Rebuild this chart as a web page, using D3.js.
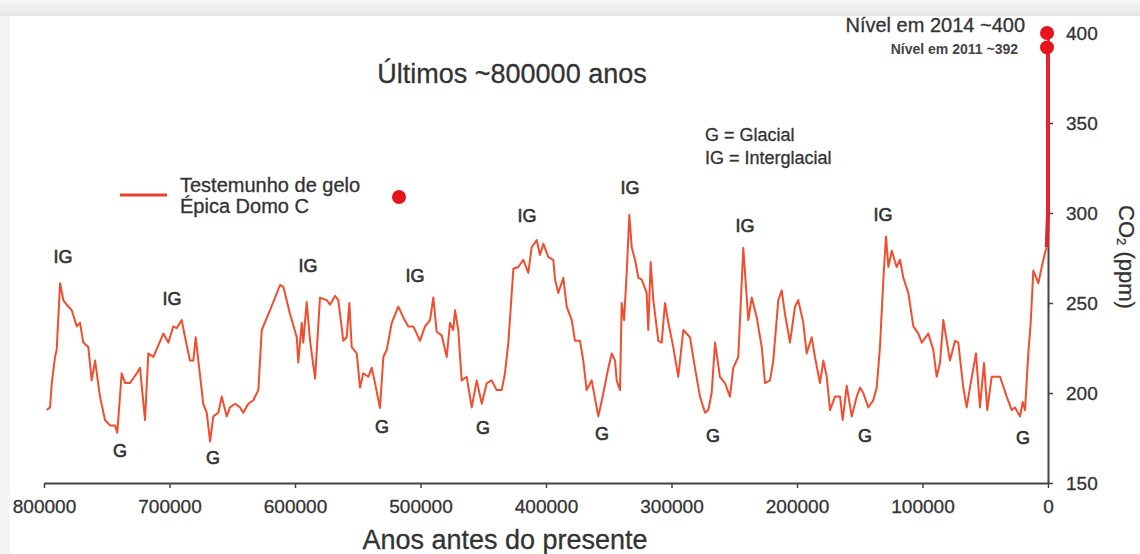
<!DOCTYPE html>
<html>
<head>
<meta charset="utf-8">
<script src="https://cdn.jsdelivr.net/npm/d3@7"></script>
<style>
  html, body { margin: 0; padding: 0; background: #f3f3f3; }
  svg { display: block; font-family: "Liberation Sans", Arial, sans-serif; }
  svg text { stroke: #333; stroke-width: 0.3px; }
</style>
</head>
<body>
<div id="chart"></div>
<script>
// Testemunho de gelo Épica Domo C: [milhares de anos antes do presente, CO2 ppm]
const iceCore = [
  [797.8,190.6],[795.2,192],[793.8,205.5],[791.2,220],[789.9,224],[787.2,261],[784.6,251.6],[781.9,249],
  [777.9,246],[773.9,237],[771.3,239],[768.7,228],[764.7,225.5],[762.0,207],[759.3,218],[755.4,198],
  [751.4,185],[747.4,182],[743.4,182],[741.6,178],[738.1,211],[735.4,205.5],[731.5,205.5],[726.1,211],
  [723.5,214],[719.5,185],[716.9,222],[712.9,220],[704.9,233],[700.9,228],[697.0,237],[694.3,236],
  [690.3,240.5],[687.6,231],[683.7,218],[681.0,218],[679.1,231],[677.0,218],[673.1,194],[670.3,189],
  [667.7,173],[665.1,187],[661.1,189],[658.4,198],[654.4,187],[651.8,192],[647.8,194],[643.8,192],
  [641.2,189],[637.2,194],[633.2,196],[629.2,201.6],[626.5,235],[619.9,246],[615.9,253],[611.9,260],
  [609.3,259],[604.0,244],[598.6,231],[597.4,217],[594.6,239],[593.4,228],[590.7,250.5],[588.0,229],
  [584.0,208],[580.1,253],[574.7,251.6],[572.1,249],[568.1,254],[565.5,251.6],[561.5,229],[558.8,231],
  [556.7,250],[554.8,225.5],[550.8,222],[548.2,203],[545.6,211],[541.6,209],[538.9,214],[536.2,205.5],
  [532.3,191.7],[529.6,220],[526.9,224],[522.9,239],[517.7,248],[513.7,242],[509.7,237],
  [505.7,237],[500.4,229],[496.4,237],[492.4,240.5],[489.8,253],[487.1,234],[483.1,232],[479.1,220],
  [476.5,239],[473.9,235],[472.5,246],[469.9,235],[467.2,207],[463.2,209],[459.2,192],[455.2,207],
  [451.2,194],[447.2,205.5],[443.3,207],[439.3,201.6],[435.3,201.6],[432.7,211],[430.0,228],[426.0,269],
  [422.1,270],[418.1,274],[414.1,266.7],[411.4,281],[407.4,285],[404.8,276.7],[402.1,283],[398.2,275.6],
  [394.2,274],[392.8,263],[390.2,255.6],[386.2,264],[383.5,248],[379.5,240.5],[376.9,229],[372.9,229],
  [370.3,218],[367.6,201.6],[363.6,207],[358.3,187],[354.3,200],[350.3,214],[347.6,222],[345.0,218],
  [343.7,207],[341.0,201.6],[339.7,250],[337.8,240.5],[335.7,266.7],[333.6,299],[331.7,281],[329.1,274],
  [326.4,264],[323.7,263],[319.8,255.6],[318.5,235],[316.6,272.8],[314.5,251.6],[310.5,229],[307.8,228],
  [305.2,250],[302.5,239],[298.6,225.5],[294.6,209],[290.6,235],[285.3,231],[281.3,214],[277.3,198],
  [273.3,189],[270.7,190.5],[268.0,200],[265.3,228],[261.4,209],[257.4,205.5],[253.4,198],[250.8,214],
  [246.8,220],[242.8,280.6],[238.8,240.5],[236.1,253],[232.1,242],[228.1,225.5],[225.5,205.5],[221.5,207],
  [218.9,218],[214.9,251.6],[212.2,257],[209.6,244],[205.6,228],[201.6,248],[199.0,251.6],[195.0,239],
  [192.3,222],[188.3,231],[185.7,220],[181.7,205.5],[179.0,218],[176.3,209],[173.7,190.5],[169.7,198],
  [165.7,198],[163.6,185],[160.4,204],[156.4,187],[152.4,198],[149.8,203],[147.2,200],[143.2,192],
  [139.2,196],[136.5,203],[133.9,225.5],[131.2,263],[129.1,287],[127.2,270],[124.5,279],[120.6,270],
  [117.9,274],[115.3,264],[111.3,255.6],[107.3,237],[103.3,233],[100.6,228],[95.4,233],[91.4,224],
  [88.7,209],[86.1,216.7],[83.4,240.5],[80.7,229],[78.1,218],[74.1,229],[71.5,228],[67.5,203],
  [64.8,192],[62.2,203],[57.4,222],[54.2,192],[51.0,216.7],[48.4,190.5],[44.9,209],[38.2,209],
  [32.9,198],[28.9,190.5],[26.3,192],[22.3,187],[20.2,195],[18.3,190.5],[15.7,222],[13.8,239],
  [11.7,268],[7.7,261],[5.0,270],[2.4,277.8],[1.0,281]
]

// subida moderna até ao nível de 2011
const modern = [[1.0, 281], [0, 300], [0, 392]]

// medições recentes
const recentLevels = [
  { kyr: 0, ppm: 400 },
  { kyr: 0, ppm: 392 }
]

// anotações G / IG: [kyr, ppm]
const igLabels = [[784.8,275.6],[698.0,252.2],[589.6,270.6],[504.4,265],[415.1,298.3],[333.1,313.9],[241.4,292.8],[131.5,298.9]]
const gLabels = [[739.4,167.8],[665.3,163.9],[530.7,181.1],[450.2,180.6],[355.4,177.2],[266.9,176.1],[145.8,176.1],[19.9,175]]

const xTicks = [800000, 700000, 600000, 500000, 400000, 300000, 200000, 100000, 0]
const yTicks = [150, 200, 250, 300, 350, 400]

const width = 1140
const height = 554
const lineColor = '#f04e2e'
const dotColor = '#e8141c'
const textColor = '#333333'

const svg = d3.select('#chart')
  .append('svg')
  .attr('width', width)
  .attr('height', height)

// moldura cinzenta + painel branco
const defs = svg.append('defs')
const topGrad = defs.append('linearGradient')
  .attr('id', 'top-band')
  .attr('x1', 0).attr('y1', 0).attr('x2', 0).attr('y2', 1)
topGrad.append('stop').attr('offset', '0%').attr('stop-color', '#f6f6f6')
topGrad.append('stop').attr('offset', '100%').attr('stop-color', '#e6e6e6')

svg.append('rect').attr('width', width).attr('height', height).attr('fill', '#f4f4f4')
svg.append('rect').attr('x', 0).attr('y', 0).attr('width', width).attr('height', 16).attr('fill', 'url(#top-band)')
svg.append('rect').attr('x', 10).attr('y', 16).attr('width', width - 10).attr('height', height - 16).attr('fill', '#ffffff')

const x = d3.scaleLinear()
  .domain([800000, 0])
  .range([44, 1048])

const y = d3.scaleLinear()
  .domain([150, 400])
  .range([483, 33])

// eixo x
const xAxis = svg.append('g')
  .attr('transform', `translate(0,${y(150)})`)
  .call(d3.axisBottom(x).tickValues(xTicks).tickFormat(d3.format('d')).tickSize(5).tickSizeOuter(0).tickPadding(12))
xAxis.select('.domain').attr('stroke', '#444').attr('stroke-width', 2)
xAxis.selectAll('.tick line').attr('stroke', '#444').attr('stroke-width', 1.5)
xAxis.selectAll('.tick text').attr('font-size', 19).attr('fill', textColor).attr('font-family', '"Liberation Sans", Arial, sans-serif')

// eixo y
const yAxis = svg.append('g')
  .attr('transform', `translate(${x(0)},0)`)
  .call(d3.axisRight(y).tickValues(yTicks).tickSize(5).tickSizeOuter(0).tickPadding(13))
yAxis.select('.domain').attr('stroke', '#444').attr('stroke-width', 2)
yAxis.selectAll('.tick line').attr('stroke', '#444').attr('stroke-width', 1.5)
yAxis.selectAll('.tick text').attr('font-size', 19).attr('fill', textColor).attr('font-family', '"Liberation Sans", Arial, sans-serif')

// curva do testemunho de gelo
const line = d3.line()
  .x(d => x(d[0] * 1000))
  .y(d => y(d[1]))

svg.append('path')
  .datum(iceCore)
  .attr('d', line)
  .attr('fill', 'none')
  .attr('stroke', lineColor)
  .attr('stroke-width', 2)
  .attr('stroke-linejoin', 'round')

svg.append('path')
  .datum(modern)
  .attr('d', line)
  .attr('fill', 'none')
  .attr('stroke', '#e3262b')
  .attr('stroke-width', 4)

// pontos 2011 / 2014
svg.append('g')
  .selectAll('circle')
  .data(recentLevels)
  .join('circle')
  .attr('cx', d => x(d.kyr * 1000) - 1)
  .attr('cy', d => y(d.ppm))
  .attr('r', 7)
  .attr('fill', dotColor)

// G / IG
svg.append('g')
  .selectAll('text')
  .data(igLabels)
  .join('text')
  .attr('x', d => x(d[0] * 1000))
  .attr('y', d => y(d[1]) + 6)
  .attr('text-anchor', 'middle')
  .attr('font-size', 18)
  .attr('fill', textColor)
  .style('stroke-width', '0.6px')
  .text('IG')

svg.append('g')
  .selectAll('text')
  .data(gLabels)
  .join('text')
  .attr('x', d => x(d[0] * 1000))
  .attr('y', d => y(d[1]) + 6)
  .attr('text-anchor', 'middle')
  .attr('font-size', 18)
  .attr('fill', textColor)
  .style('stroke-width', '0.6px')
  .text('G')

// títulos
svg.append('text')
  .attr('x', 512)
  .attr('y', 83)
  .attr('text-anchor', 'middle')
  .attr('font-size', 27)
  .attr('fill', textColor)
  .text('Últimos ~800000 anos')

svg.append('text')
  .attr('x', 505)
  .attr('y', 549)
  .attr('text-anchor', 'middle')
  .attr('font-size', 27)
  .attr('fill', textColor)
  .text('Anos antes do presente')

const yLabel = svg.append('text')
  .attr('transform', 'translate(1119,257) rotate(90)')
  .attr('text-anchor', 'middle')
  .attr('font-size', 22)
  .attr('fill', textColor)
yLabel.append('tspan').text('CO')
yLabel.append('tspan').attr('font-size', 13).attr('dy', 2).text('2')
yLabel.append('tspan').attr('dy', -2).text(' (ppm)')

// legenda
svg.append('line')
  .attr('x1', 120).attr('x2', 167)
  .attr('y1', 195).attr('y2', 195)
  .attr('stroke', '#e8402a')
  .attr('stroke-width', 3)

svg.append('text').attr('x', 180).attr('y', 192).attr('font-size', 20).attr('fill', textColor).text('Testemunho de gelo')
svg.append('text').attr('x', 180).attr('y', 213).attr('font-size', 20).attr('fill', textColor).text('Épica Domo C')

svg.append('circle').attr('cx', 399).attr('cy', 197).attr('r', 7).attr('fill', dotColor)

svg.append('text').attr('x', 705).attr('y', 141).attr('font-size', 18).attr('fill', textColor).text('G = Glacial')
svg.append('text').attr('x', 705).attr('y', 164).attr('font-size', 18).attr('fill', textColor).text('IG = Interglacial')

// níveis recentes
svg.append('text')
  .attr('x', 1025).attr('y', 32)
  .attr('text-anchor', 'end')
  .attr('font-size', 20)
  .attr('fill', textColor)
  .text('Nível em 2014 ~400')

svg.append('text')
  .attr('x', 1018).attr('y', 54)
  .attr('text-anchor', 'end')
  .attr('font-size', 14)
  .attr('font-weight', 'bold')
  .attr('fill', '#444')
  .style('stroke', 'none')
  .text('Nível em 2011 ~392')
</script>
</body>
</html>
